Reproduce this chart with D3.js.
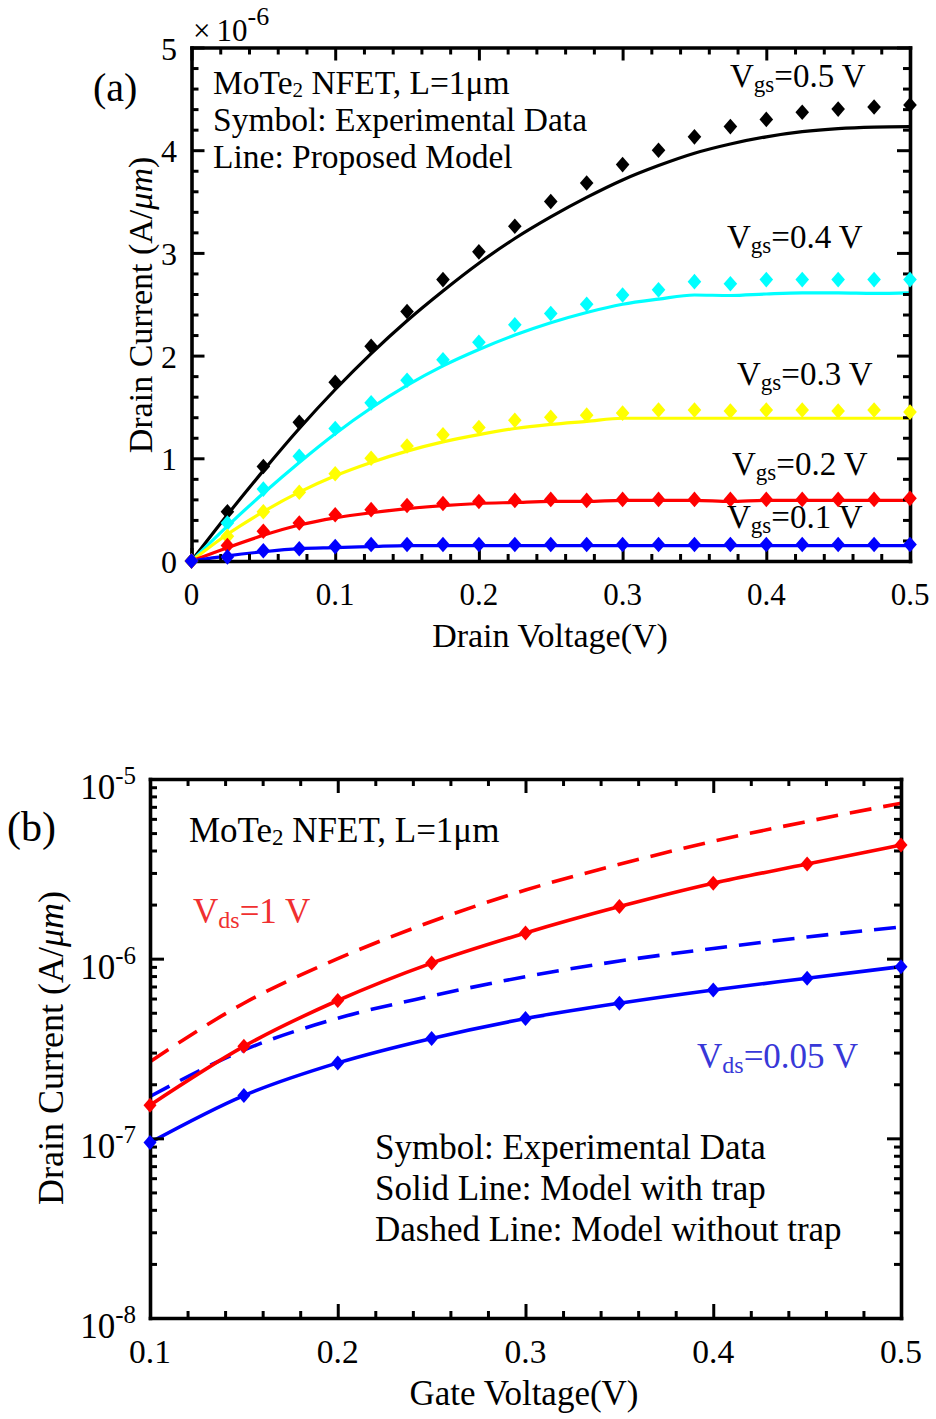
<!DOCTYPE html>
<html>
<head>
<meta charset="utf-8">
<script src="https://cdn.jsdelivr.net/npm/d3@7"></script>
<style>
  html, body { margin: 0; padding: 0; background: #ffffff; }
  svg { display: block; }
  text { font-family: "Liberation Serif", "Times New Roman", serif; fill: #000; }
</style>
</head>
<body>
<svg id="fig" width="936" height="1419"></svg>
<script>
// ---------- Panel (a): output characteristics, current in units of 1e-6 A/um ----------
const drainV = [0, 0.025, 0.05, 0.075, 0.1, 0.125, 0.15, 0.175, 0.2, 0.225, 0.25,
                0.275, 0.3, 0.325, 0.35, 0.375, 0.4, 0.425, 0.45, 0.475, 0.5];

// measured points (symbols)
const expVgs05 = [0, 0.48, 0.92, 1.35, 1.74, 2.09, 2.43, 2.74, 3.01, 3.26, 3.50, 3.68, 3.86, 4.00, 4.13, 4.23, 4.30, 4.37, 4.40, 4.42, 4.44];
const expVgs04 = [0, 0.37, 0.70, 1.02, 1.29, 1.54, 1.76, 1.96, 2.13, 2.30, 2.41, 2.50, 2.59, 2.64, 2.72, 2.70, 2.74, 2.74, 2.74, 2.74, 2.74];
const expVgs03 = [0, 0.24, 0.48, 0.67, 0.85, 1.00, 1.12, 1.23, 1.30, 1.37, 1.40, 1.42, 1.44, 1.47, 1.47, 1.46, 1.47, 1.47, 1.46, 1.47, 1.45];
const expVgs02 = [0, 0.15, 0.29, 0.37, 0.45, 0.50, 0.54, 0.56, 0.58, 0.59, 0.60, 0.59, 0.60, 0.60, 0.60, 0.60, 0.60, 0.60, 0.60, 0.60, 0.61];
const expVgs01 = [0, 0.04, 0.10, 0.12, 0.14, 0.16, 0.16, 0.16, 0.16, 0.16, 0.16, 0.16, 0.16, 0.16, 0.16, 0.16, 0.16, 0.16, 0.16, 0.16, 0.16];

// proposed model (lines)
const modVgs05 = [0, 0.45, 0.88, 1.29, 1.67, 2.02, 2.34, 2.63, 2.90, 3.14, 3.35, 3.54, 3.71, 3.85, 3.97, 4.06, 4.13, 4.18, 4.21, 4.225, 4.23];
const modVgs04 = [0, 0.34, 0.66, 0.96, 1.24, 1.49, 1.71, 1.90, 2.06, 2.20, 2.32, 2.42, 2.50, 2.55, 2.59, 2.585, 2.60, 2.61, 2.61, 2.605, 2.61];
const modVgs03 = [0, 0.26, 0.48, 0.67, 0.83, 0.96, 1.07, 1.16, 1.23, 1.29, 1.33, 1.36, 1.39, 1.39, 1.39, 1.39, 1.39, 1.39, 1.39, 1.39, 1.39];
const modVgs02 = [0, 0.13, 0.25, 0.35, 0.42, 0.47, 0.51, 0.54, 0.56, 0.57, 0.58, 0.58, 0.59, 0.59, 0.59, 0.58, 0.59, 0.59, 0.59, 0.59, 0.59];
const modVgs01 = [0, 0.05, 0.09, 0.12, 0.13, 0.14, 0.15, 0.15, 0.15, 0.15, 0.15, 0.15, 0.15, 0.15, 0.15, 0.15, 0.15, 0.15, 0.15, 0.15, 0.15];

const vgsNames  = ["0.5", "0.4", "0.3", "0.2", "0.1"];
const vgsColors = ["#000000", "#00ffff", "#ffff00", "#ff0000", "#0000ff"];

const xTicksA = ["0", "0.1", "0.2", "0.3", "0.4", "0.5"];
const yTicksA = ["0", "1", "2", "3", "4", "5"];

// ---------- Panel (b): transfer characteristics, A/um ----------
const gateV = [0.1, 0.15, 0.2, 0.25, 0.3, 0.35, 0.4, 0.45, 0.5];
const expVds1   = [1.53e-7, 3.25e-7, 5.85e-7, 9.45e-7, 1.39e-6, 1.95e-6, 2.63e-6, 3.36e-6, 4.29e-6];
const expVds005 = [9.47e-8, 1.73e-7, 2.63e-7, 3.60e-7, 4.64e-7, 5.65e-7, 6.70e-7, 7.78e-7, 9.03e-7];
const trapVds1   = [1.53e-7, 3.25e-7, 5.85e-7, 9.45e-7, 1.39e-6, 1.95e-6, 2.63e-6, 3.36e-6, 4.29e-6];
const trapVds005 = [9.47e-8, 1.73e-7, 2.63e-7, 3.60e-7, 4.64e-7, 5.65e-7, 6.70e-7, 7.78e-7, 9.03e-7];
const noTrapVds1   = [2.67e-7, 5.65e-7, 1.00e-6, 1.61e-6, 2.41e-6, 3.35e-6, 4.50e-6, 5.80e-6, 7.33e-6];
const noTrapVds005 = [1.71e-7, 3.10e-7, 4.66e-7, 6.20e-7, 7.94e-7, 9.70e-7, 1.14e-6, 1.32e-6, 1.50e-6];

const xTicksB = ["0.1", "0.2", "0.3", "0.4", "0.5"];
const yExpB   = [-5, -6, -7, -8];

// ---------- helpers ----------
const svg = d3.select("#fig");
svg.append("rect").attr("width", 936).attr("height", 1419).attr("fill", "#fff");

const diamond = (hw, hh) => `M0,${-hh}L${hw},0L0,${hh}L${-hw},0Z`;

function boxAxes(g, x, y, xMajor, xMinor, yMajor, yMinor, maj, mnr) {
  const [x0, x1] = x.range();
  const [y0, y1] = y.range();
  const defs = [
    [d3.axisBottom, x, `translate(0,${y0})`, xMajor, xMinor],
    [d3.axisTop,    x, `translate(0,${y1})`, xMajor, xMinor],
    [d3.axisLeft,   y, `translate(${x0},0)`, yMajor, yMinor],
    [d3.axisRight,  y, `translate(${x1},0)`, yMajor, yMinor]
  ];
  defs.forEach(([ax, sc, tr, major, minor]) => {
    const gm = g.append("g").attr("transform", tr)
      .call(ax(sc).tickValues(minor).tickSizeInner(-mnr).tickSizeOuter(0).tickFormat(""));
    gm.select(".domain").remove();
    const gM = g.append("g").attr("transform", tr)
      .call(ax(sc).tickValues(major).tickSizeInner(-maj).tickSizeOuter(0).tickFormat(""));
    gM.select(".domain").attr("stroke", "#000").attr("stroke-width", 3.6).attr("stroke-linecap", "square");
    g.selectAll(".tick line").attr("stroke", "#000").attr("stroke-width", 3);
  });
}

// =================== Panel (a) ===================
const gA = svg.append("g");
const xA = d3.scaleLinear().domain([0, 0.5]).range([191.5, 910]);
const yA = d3.scaleLinear().domain([0, 5]).range([561, 47.5]);

const xMinorA = d3.range(0, 0.5001, 0.02).filter(v => Math.abs(v * 10 - Math.round(v * 10)) > 1e-6);
const yMinorA = d3.range(0, 5.001, 0.2).filter(v => Math.abs(v - Math.round(v)) > 1e-6);

const seriesA = [
  { exp: expVgs05, mod: modVgs05 },
  { exp: expVgs04, mod: modVgs04 },
  { exp: expVgs03, mod: modVgs03 },
  { exp: expVgs02, mod: modVgs02 },
  { exp: expVgs01, mod: modVgs01 }
];

const lineA = d3.line().x(d => xA(d[0])).y(d => yA(d[1])).curve(d3.curveMonotoneX);

// model lines
seriesA.forEach((s, i) => {
  gA.append("path")
    .datum(drainV.map((v, k) => [v, s.mod[k]]))
    .attr("d", lineA)
    .attr("fill", "none")
    .attr("stroke", vgsColors[i])
    .attr("stroke-width", 3.2)
    .attr("stroke-linejoin", "round");
});

boxAxes(gA, xA, yA, xTicksA.map(Number), xMinorA, yTicksA.map(Number), yMinorA, 13, 7);

// measured symbols
seriesA.forEach((s, i) => {
  gA.append("g").selectAll("path")
    .data(drainV.map((v, k) => [v, s.exp[k]]))
    .join("path")
    .attr("transform", d => `translate(${xA(d[0])},${yA(d[1])})`)
    .attr("d", diamond(6.8, 7.8))
    .attr("fill", vgsColors[i]);
});

// tick labels
gA.append("g").selectAll("text").data(xTicksA).join("text")
  .attr("x", d => xA(+d)).attr("y", 605)
  .attr("text-anchor", "middle").attr("font-size", 31).text(d => d);
gA.append("g").selectAll("text").data(yTicksA).join("text")
  .attr("x", 177).attr("y", d => yA(+d) + 12)
  .attr("text-anchor", "end").attr("font-size", 32).text(d => d);

// exponent multiplier
const mult = gA.append("text").attr("x", 193).attr("y", 41).attr("font-size", 31);
mult.append("tspan").text("\u00d7");
mult.append("tspan").attr("dx", 6).text("10");
mult.append("tspan").attr("font-size", 26).attr("dy", -16).text("-6");

// axis titles
gA.append("text").attr("x", 550).attr("y", 647).attr("text-anchor", "middle")
  .attr("font-size", 34).text("Drain Voltage(V)");
const ytA = gA.append("text").attr("transform", "translate(152,305) rotate(-90)")
  .attr("text-anchor", "middle").attr("font-size", 34);
ytA.append("tspan").text("Drain Current (A/");
ytA.append("tspan").attr("font-style", "italic").text("\u03bcm");
ytA.append("tspan").text(")");

// panel tag
gA.append("text").attr("x", 93).attr("y", 101).attr("font-size", 40).text("(a)");

// annotation block
const noteA = gA.append("g").attr("font-size", 33.5);
const n1 = noteA.append("text").attr("x", 213).attr("y", 94);
n1.append("tspan").text("MoTe");
n1.append("tspan").attr("font-size", 21).attr("dy", 3).text("2");
n1.append("tspan").attr("dy", -3).text(" NFET, L=1\u03bcm");
noteA.append("text").attr("x", 213).attr("y", 131).text("Symbol: Experimental Data");
noteA.append("text").attr("x", 213).attr("y", 168).text("Line: Proposed Model");

// Vgs labels
const vgsLabelPos = [[730, 87], [727, 248], [737, 385], [732, 475], [727, 528]];
vgsNames.forEach((name, i) => {
  const t = gA.append("text").attr("x", vgsLabelPos[i][0]).attr("y", vgsLabelPos[i][1]).attr("font-size", 33);
  t.append("tspan").text("V");
  t.append("tspan").attr("font-size", 23).attr("dy", 5).text("gs");
  t.append("tspan").attr("dy", -5).text(`=${name} V`);
});

// =================== Panel (b) ===================
const gB = svg.append("g");
const xB = d3.scaleLinear().domain([0.1, 0.5]).range([150, 901]);
const yB = d3.scaleLog().domain([1e-8, 1e-5]).range([1318, 779]);

const xMinorB = d3.range(0.1, 0.5001, 0.02).filter(v => Math.abs(v * 10 - Math.round(v * 10)) > 1e-6);
const yMajorB = yExpB.map(e => Math.pow(10, e));
const yMinorB = [];
[-8, -7, -6].forEach(e => { for (let m = 2; m <= 9; m++) yMinorB.push(m * Math.pow(10, e)); });

const lineB = d3.line().x(d => xB(d[0])).y(d => yB(d[1])).curve(d3.curveMonotoneX);

const seriesB = [
  { data: noTrapVds1,   color: "#ff0000", dash: "22,12" },
  { data: noTrapVds005, color: "#0000ff", dash: "22,12" },
  { data: trapVds1,     color: "#ff0000", dash: null },
  { data: trapVds005,   color: "#0000ff", dash: null }
];
seriesB.forEach(s => {
  gB.append("path")
    .datum(gateV.map((v, k) => [v, s.data[k]]))
    .attr("d", lineB)
    .attr("fill", "none")
    .attr("stroke", s.color)
    .attr("stroke-width", 3.6)
    .attr("stroke-dasharray", s.dash)
    .attr("stroke-linejoin", "round");
});

boxAxes(gB, xB, yB, xTicksB.map(Number), xMinorB, yMajorB, yMinorB, 14, 7);

[[expVds1, "#ff0000"], [expVds005, "#0000ff"]].forEach(([arr, c]) => {
  gB.append("g").selectAll("path")
    .data(gateV.map((v, k) => [v, arr[k]]))
    .join("path")
    .attr("transform", d => `translate(${xB(d[0])},${yB(d[1])})`)
    .attr("d", diamond(6.5, 7.5))
    .attr("fill", c);
});

// tick labels
gB.append("g").selectAll("text").data(xTicksB).join("text")
  .attr("x", d => xB(+d)).attr("y", 1363)
  .attr("text-anchor", "middle").attr("font-size", 33.5).text(d => d);
yExpB.forEach(e => {
  const t = gB.append("text").attr("x", 136).attr("y", yB(Math.pow(10, e)) + 20)
    .attr("text-anchor", "end").attr("font-size", 35);
  t.append("tspan").text("10");
  t.append("tspan").attr("font-size", 25).attr("dy", -15).text(String(e));
});

// axis titles
gB.append("text").attr("x", 524).attr("y", 1405).attr("text-anchor", "middle")
  .attr("font-size", 35).text("Gate Voltage(V)");
const ytB = gB.append("text").attr("transform", "translate(63,1048) rotate(-90)")
  .attr("text-anchor", "middle").attr("font-size", 36);
ytB.append("tspan").text("Drain Current (A/");
ytB.append("tspan").attr("font-style", "italic").text("\u03bcm");
ytB.append("tspan").text(")");

// panel tag
gB.append("text").attr("x", 7).attr("y", 841).attr("font-size", 42).text("(b)");

// annotations
const nb = gB.append("text").attr("x", 189).attr("y", 842).attr("font-size", 35);
nb.append("tspan").text("MoTe");
nb.append("tspan").attr("font-size", 23).attr("dy", 3).text("2");
nb.append("tspan").attr("dy", -3).text(" NFET, L=1\u03bcm");

const vd1 = gB.append("text").attr("x", 193).attr("y", 923).attr("font-size", 35).style("fill", "#f03030");
vd1.append("tspan").text("V");
vd1.append("tspan").attr("font-size", 24).attr("dy", 5).text("ds");
vd1.append("tspan").attr("dy", -5).text("=1 V");

const vd2 = gB.append("text").attr("x", 697).attr("y", 1068).attr("font-size", 35).style("fill", "#3838d8");
vd2.append("tspan").text("V");
vd2.append("tspan").attr("font-size", 24).attr("dy", 5).text("ds");
vd2.append("tspan").attr("dy", -5).text("=0.05 V");

const noteB = gB.append("g").attr("font-size", 35);
noteB.append("text").attr("x", 375).attr("y", 1159).text("Symbol: Experimental Data");
noteB.append("text").attr("x", 375).attr("y", 1200).text("Solid Line: Model with trap");
noteB.append("text").attr("x", 375).attr("y", 1241).text("Dashed Line: Model without trap");
</script>
</body>
</html>
